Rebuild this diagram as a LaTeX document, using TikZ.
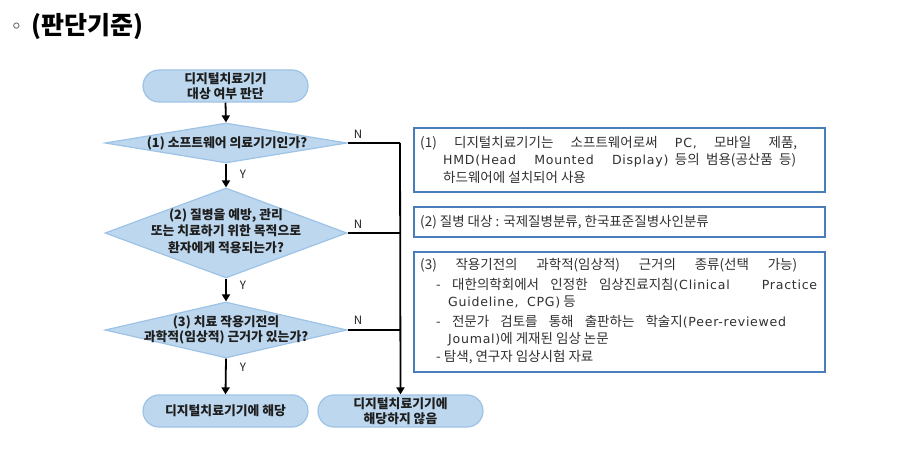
\documentclass[tikz,border=0pt]{standalone}
\usepackage{fontspec}
\setmainfont{Noto Sans CJK KR}
\newfontfamily\symfont{DejaVu Sans}
\newfontfamily\krn{Noto Sans CJK KR}[WordSpace=2.0]
\newfontfamily\krb{Noto Sans CJK KR}[WordSpace=2]
\newfontfamily\krt{Noto Sans CJK KR}
\newfontfamily\latn{DejaVu Sans}[LetterSpace=6,Scale=0.93,WordSpace=1.8]
\newcommand{\en}[1]{{\latn #1}}
\usetikzlibrary{arrows.meta,shapes.geometric}
\definecolor{shfill}{HTML}{BDD7EE}
\definecolor{shdraw}{HTML}{9DC3E6}
\definecolor{boxdraw}{HTML}{4A7EBB}
\definecolor{txt}{HTML}{1E1E1E}
\definecolor{ntxtc}{HTML}{303030}
\begin{document}
\begin{tikzpicture}[x=1pt,y=-1pt,
 term/.style={draw=shdraw, fill=shfill, line width=1.2pt, rounded corners=16pt, minimum width=165pt, minimum height=32pt, inner sep=0pt},
 dia/.style={draw=shdraw, fill=shfill, line width=1.2pt, diamond, inner sep=0pt, minimum width=242pt},
 stxt/.style={font=\krb\fontsize{12.8}{14}\selectfont\bfseries, text=txt, align=center, inner sep=0pt},
 note/.style={draw=boxdraw, line width=1.5pt, minimum width=411pt, inner sep=0pt},
 ntxt/.style={font=\krn\fontsize{13.5}{14}\selectfont, text=ntxtc, anchor=west, inner sep=0pt},
 arr/.style={line width=1.8pt, -{Triangle[length=7pt,width=8pt]}},
 ln/.style={line width=1.8pt},
 lbl/.style={font=\fontsize{11.5}{13}\selectfont, text=txt, inner sep=0pt}
]
\path[use as bounding box] (0,0) rectangle (918,454);

% title
\node[inner sep=0pt] (bul) at (16.5,28) {\symfont\fontsize{20}{22}\selectfont ◦};
\node[anchor=west, inner sep=0pt] (ttl) at (31,27) {\krt\fontsize{25}{27}\selectfont\bfseries (판단기준)};

% flow shapes
\node[term] (s) at (225.5,86) {};
\node[stxt, font=\krb\fontsize{12.8}{14.5}\selectfont\bfseries] (st) at (s) {디지털치료기기\\대상 여부 판단};

\node[dia, minimum height=40pt] (d1) at (226,143) {};
\node[stxt] (d1t) at (227,143) {(1) 소프트웨어 의료기기인가?};

\node[dia, minimum height=90pt] (d2) at (226,233) {};
\node[stxt, font=\krb\fontsize{12.8}{16.5}\selectfont\bfseries] (d2t) at (226,231) {(2) 질병을 예방, 관리\\또는 치료하기 위한 목적으로\\환자에게 적용되는가?};

\node[dia, minimum height=56pt] (d3) at (226,330) {};
\node[stxt, font=\krb\fontsize{12.8}{15}\selectfont\bfseries] (d3t) at (226,330) {(3) 치료 작용기전의\\과학적(임상적) 근거가 있는가?};

\node[term] (e1) at (225.5,411) {};
\node[stxt] (e1t) at (e1) {디지털치료기기에 해당};

\node[term] (e2) at (400.5,411) {};
\node[stxt, font=\krb\fontsize{12.8}{14.5}\selectfont\bfseries] (e2t) at (e2) {디지털치료기기에\\해당하지 않음};

% connectors
\draw[arr] (s.south) -- (d1.north);
\draw[arr] (d1.south) -- (d2.north);
\draw[arr] (d2.south) -- (d3.north);
\draw[arr] (d3.south) -- (e1.north);

\coordinate (c1) at (400,143);
\coordinate (c2) at (400,233);
\coordinate (c3) at (400,330);
\draw[ln] (d1.east) -- (c1);
\draw[ln] (d2.east) -- (c2);
\draw[ln] (d3.east) -- (c3);
\draw[arr] (c1) -- (e2.north);

\node[lbl] (n1) at (358,134) {N};
\node[lbl] (n2) at (358,224) {N};
\node[lbl] (n3) at (358,320) {N};
\node[lbl] (y1) at (243,174) {Y};
\node[lbl] (y2) at (243,285) {Y};
\node[lbl] (y3) at (243,367) {Y};

% note boxes
\node[note, minimum height=64pt] (b1) at (619.5,160) {};
\node[ntxt] (b1a) at (420,143) {\makebox[377pt][s]{(1) 디지털치료기기는 소프트웨어로써 \en{PC,} 모바일 제품,}};
\node[ntxt] (b1b) at (443,160) {\makebox[353pt][s]{\en{HMD(Head Mounted Display)} 등의 범용(공산품 등)}};
\node[ntxt] (b1c) at (443,177) {하드웨어에 설치되어 사용};

\node[note, minimum height=30pt] (b2) at (619.5,222) {};
\node[ntxt] (b2a) at (420,222) {(2) 질병 대상 : 국제질병분류, 한국표준질병사인분류};

\node[note, minimum height=120pt] (b3) at (619.5,312) {};
\node[ntxt] (b3a) at (420,265) {\makebox[377pt][s]{(3) 작용기전의 과학적(임상적) 근거의 종류(선택 가능)}};
\node[ntxt] (b3b) at (436,285) {\makebox[381pt][s]{- 대한의학회에서 인정한 임상진료지침\en{(Clinical Practice}}};
\node[ntxt] (b3c) at (448,302) {\en{Guideline, CPG)} 등};
\node[ntxt] (b3d) at (436,322) {\makebox[350pt][s]{- 전문가 검토를 통해 출판하는 학술지\en{(Peer-reviewed}}};
\node[ntxt] (b3e) at (448,339) {\en{Joumal)}에 게재된 임상 논문};
\node[ntxt] (b3f) at (436,357) {- 탐색, 연구자 임상시험 자료};
\end{tikzpicture}
\end{document}
